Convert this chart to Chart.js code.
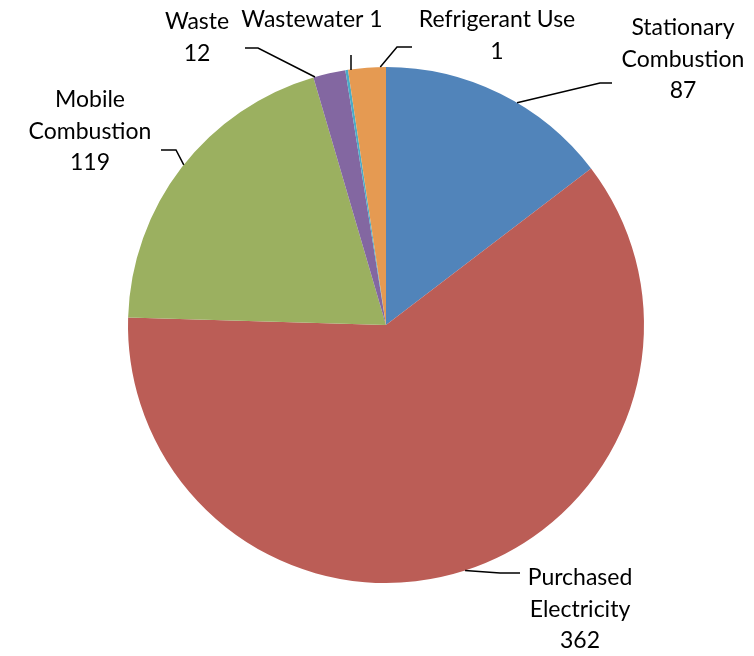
<!DOCTYPE html>
<html>
<head>
<meta charset="utf-8">
<script src="https://cdn.jsdelivr.net/npm/chart.js@4"></script>
<style>
  html, body { margin: 0; padding: 0; background: #fff; }
  #wrap { width: 754px; height: 656px; }
</style>
</head>
<body>
<div id="wrap"><canvas id="pieChart" width="754" height="656"></canvas></div>
<script>
// chart data
const categories = ["Stationary Combustion", "Purchased Electricity", "Mobile Combustion", "Waste", "Wastewater", "Refrigerant Use"];
const values = [87, 362, 119, 12, 1, 14];
// value text as printed on the chart (refrigerant slice is drawn larger than its printed label)
const valueLabels = ["87", "362", "119", "12", "1", "1"];
const labelLines = [
    ["Stationary", "Combustion"],
    ["Purchased", "Electricity"],
    ["Mobile", "Combustion"],
    ["Waste"],
    ["Wastewater 1"],
    ["Refrigerant Use"]
];
const colors = ["#5184BA", "#BB5D56", "#9BB060", "#8367A1", "#4BACC6", "#E59A52"];

// label placement (layout only)
const labelLayout = [
    { x: 683, y: 28, frac: 0.58, elbow: [600, 83], end: [612, 83] },
    { x: 580, y: 578, frac: 0.5, elbow: [500, 573], end: [520, 573] },
    { x: 90, y: 100, frac: 0.51, elbow: [176, 150], end: [161, 150] },
    { x: 197, y: 22, frac: 0.05, elbow: [258, 48], end: [245, 48] },
    { x: 312, y: 20, frac: 0.5, elbow: null, end: [351, 55], noValue: true },
    { x: 497, y: 20, frac: 0.85, elbow: [397, 47], end: [412, 47] }
];

const FONT = "23px Lato, 'Open Sans', sans-serif";
const LINE_H = 31.5;

const outsideLabels = {
    id: "outsideLabels",
    afterDraw(chart) {
        const ctx = chart.ctx;
        const arcs = chart.getDatasetMeta(0).data;
        ctx.save();
        ctx.strokeStyle = "#000";
        ctx.lineWidth = 1.5;
        ctx.fillStyle = "#000";
        ctx.font = FONT;
        ctx.textAlign = "center";
        ctx.textBaseline = "middle";
        arcs.forEach(function (arc, i) {
            const p = arc.getProps(["x", "y", "startAngle", "endAngle", "outerRadius"], true);
            const lay = labelLayout[i];
            const a = p.startAngle + (p.endAngle - p.startAngle) * lay.frac;
            const sx = p.x + p.outerRadius * Math.cos(a);
            const sy = p.y + p.outerRadius * Math.sin(a);

            ctx.beginPath();
            ctx.moveTo(sx, sy);
            if (lay.elbow) {
                ctx.lineTo(lay.elbow[0], lay.elbow[1]);
            } else {
                ctx.moveTo(lay.end[0], sy);
            }
            ctx.lineTo(lay.end[0], lay.end[1]);
            ctx.stroke();

            const lines = labelLines[i].slice();
            if (!lay.noValue) lines.push(valueLabels[i]);
            lines.forEach(function (t, k) {
                ctx.fillText(t, lay.x, lay.y + k * LINE_H);
            });
        });
        ctx.restore();
    }
};

document.addEventListener("DOMContentLoaded", function () {
    const ctx = document.getElementById("pieChart");

    new Chart(ctx, {
        type: "pie",
        data: {
            labels: categories,
            datasets: [{
                data: values,
                backgroundColor: colors,
                borderWidth: 0
            }]
        },
        options: {
            responsive: false,
            animation: false,
            layout: {
                padding: { left: 128, right: 110, top: 67, bottom: 73 }
            },
            plugins: {
                legend: { display: false },
                tooltip: { enabled: false }
            }
        },
        plugins: [outsideLabels]
    });
});
</script>
</body>
</html>
